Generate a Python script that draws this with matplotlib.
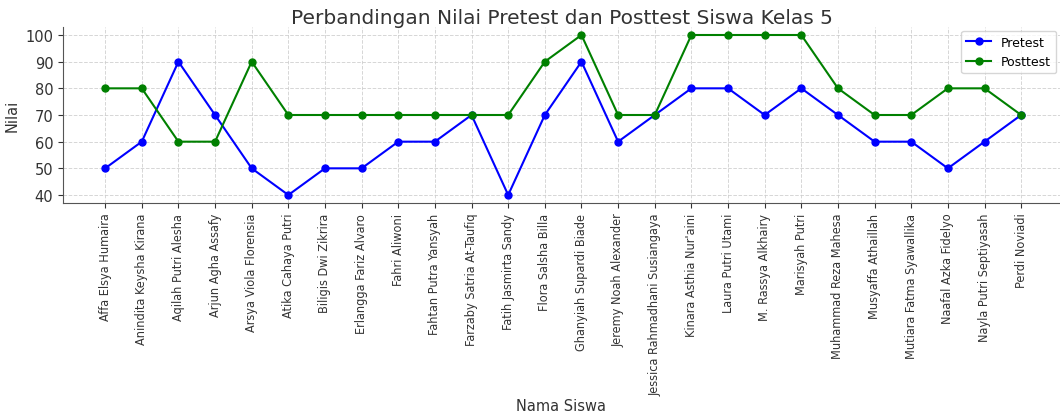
import matplotlib
matplotlib.use("Agg")
import matplotlib.pyplot as plt

names = ["Affa Elsya Humaira", "Anindita Keysha Kirana", "Aqilah Putri Alesha", "Arjun Agha Assafy",
         "Arsya Viola Florensia", "Atika Cahaya Putri", "Biligis Dwi Zikrira", "Erlangga Fariz Alvaro",
         "Fahri Aliwoni", "Fahtan Putra Yansyah", "Farzaby Satria At-Taufiq", "Fatih Jasmirta Sandy",
         "Flora Salsha Billa", "Ghanyiah Supardi Biade", "Jeremy Noah Alexander",
         "Jessica Rahmadhani Susiangaya", "Kinara Asthia Nur'aini", "Laura Putri Utami",
         "M. Rassya Alkhairy", "Marisyah Putri", "Muhammad Reza Mahesa", "Musyaffa Athaillah",
         "Mutiara Fatma Syawallika", "Naafal Azka Fidelyo", "Nayla Putri Septiyasah", "Perdi Noviadi"]
pretest = [50, 60, 90, 70, 50, 40, 50, 50, 60, 60, 70, 40, 70, 90, 60, 70, 80, 80, 70, 80, 70, 60, 60, 50, 60, 70]
posttest = [80, 80, 60, 60, 90, 70, 70, 70, 70, 70, 70, 70, 90, 100, 70, 70, 100, 100, 100, 100, 80, 70, 70, 80, 80, 70]

fig = plt.figure(figsize=(10.6, 4.14), dpi=100)
ax = fig.add_axes([63/1060, 1 - 204/414, 1 - 63/1060, (204 - 28)/414])

x = list(range(len(names)))
ax.plot(x, pretest, marker='o', color='blue', label='Pretest', linewidth=1.5, markersize=5)
ax.plot(x, posttest, marker='o', color='green', label='Posttest', linewidth=1.5, markersize=5)

ax.set_xlim(-1.15, 26.06)
ax.set_ylim(37, 103)
ax.set_yticks([40, 50, 60, 70, 80, 90, 100])
ax.set_xticks(x)
ax.set_xticklabels(names, rotation=90, fontsize=9.1, fontstretch='condensed', color='#222222')
ax.tick_params(axis='y', labelsize=10.5, colors='#333333')
ax.tick_params(axis='x', colors='#333333')
ax.grid(True, linestyle='--', color='#cccccc', linewidth=0.7, alpha=0.8)
ax.spines['top'].set_visible(False)
ax.spines['right'].set_visible(False)
for s in ['left', 'bottom']:
    ax.spines[s].set_color('#555555')

ax.set_title('Perbandingan Nilai Pretest dan Posttest Siswa Kelas 5', fontsize=14.5, color='#333333', pad=3)
ax.set_ylabel('Nilai', fontsize=10.5, color='#333333')
ax.set_xlabel('Nama Siswa', fontsize=10.5, color='#333333', labelpad=2)
ax.legend(loc='upper right', fontsize=9, borderaxespad=0.3)

fig.savefig('out.png', dpi=100)
